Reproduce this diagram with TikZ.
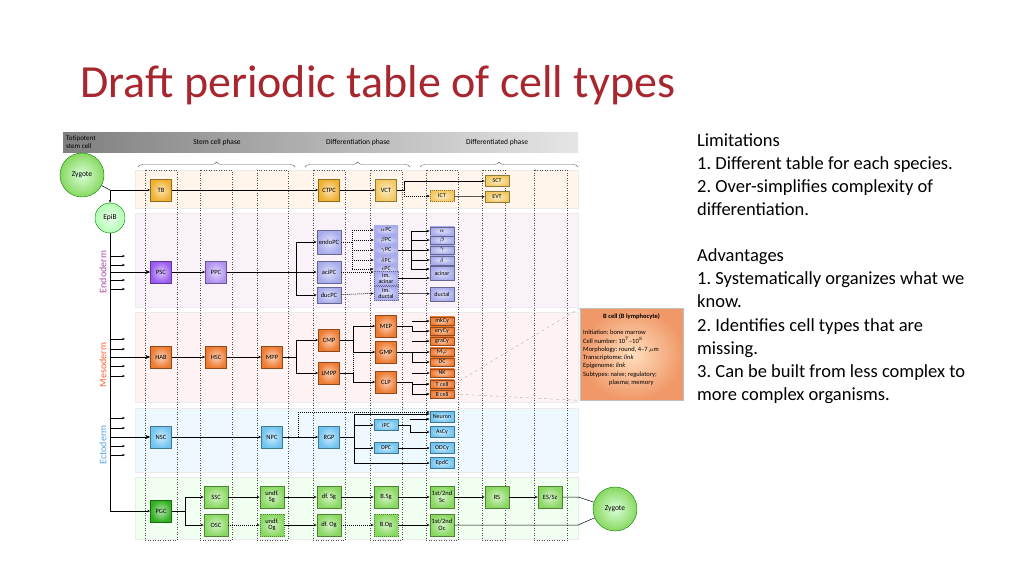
\documentclass[tikz,border=0pt]{standalone}
\usepackage{fontspec}
\setmainfont{Carlito}
\frenchspacing
\usetikzlibrary{arrows.meta,decorations.pathreplacing}
\definecolor{titlered}{HTML}{A8272F}
\definecolor{cTB}{HTML}{F0B030}
\definecolor{cVCT}{HTML}{F2C860}
\definecolor{cPSC}{HTML}{9A5AF0}
\definecolor{cPPC}{HTML}{B090F0}
\definecolor{cEndo}{HTML}{A8ACEC}
\definecolor{cMeso}{HTML}{EE7A30}
\definecolor{cEcto}{HTML}{70C4F0}
\definecolor{cPGC}{HTML}{30B020}
\definecolor{cGerm}{HTML}{88D860}
\definecolor{cBox}{HTML}{F09868}
\tikzset{
 cell/.style={draw=#1!60!black, line width=0.5pt, inner sep=0pt, align=center, minimum width=21pt, minimum height=22pt, font=\fontsize{6.5}{6.5}\selectfont, shading=radial, inner color=#1!35, outer color=#1},
 sm/.style={cell=#1, minimum width=24pt, minimum height=8.5pt, font=\fontsize{6}{6}\selectfont},
 dsh/.style={dash pattern=on 1.2pt off 0.8pt},
 ar/.style={-{Stealth[length=3pt,width=2.4pt]}, line width=0.5pt},
 ln/.style={line width=0.5pt},
 colframe/.style={draw=black!70, dotted, line width=0.5pt},
 band/.style={draw=black!8, line width=0.3pt},
 bodytext/.style={font=\fontsize{18.5}{23}\selectfont, anchor=north west, align=left, inner sep=0pt}
}
\begin{document}
\begin{tikzpicture}[x=1pt,y=-1pt]
\useasboundingbox (0,0) rectangle (1024,576);
\node[anchor=west, text=titlered, font=\fontsize{46}{52}\selectfont, inner sep=0pt] (title) at (80,85) {Draft periodic table of cell types};
% header
\shade[left color=black!50, right color=black!10] (63,132) rectangle (578,152);
\node[font=\fontsize{7}{7.5}\selectfont, align=left, anchor=west, inner sep=0pt] (toti) at (66,142) {Totipotent\\stem cell};
\node[font=\fontsize{7.5}{7.5}\selectfont] (h1) at (217,142) {Stem cell phase};
\node[font=\fontsize{7.5}{7.5}\selectfont] (h2) at (358,142) {Differentiation phase};
\node[font=\fontsize{7.5}{7.5}\selectfont] (h3) at (497,142) {Differentiated phase};
\draw[decorate, decoration={brace, amplitude=5pt}, black!60, line width=0.4pt] (138,167) -- (295,167);
\draw[decorate, decoration={brace, amplitude=5pt}, black!60, line width=0.4pt] (305,167) -- (410,167);
\draw[decorate, decoration={brace, amplitude=5pt}, black!60, line width=0.4pt] (420,167) -- (578,167);
% bands
\fill[band, fill=orange!8] (135,170) rectangle (578,208);
\fill[band, fill=violet!5] (135,213) rectangle (578,307);
\fill[band, fill=red!5] (135,312) rectangle (578,402);
\fill[band, fill=cyan!7] (135,408) rectangle (578,472);
\fill[band, fill=green!6] (135,477) rectangle (578,539);
% column frames
\foreach \a/\b in {145/177,200/232,257/288,313/345,370/402,426/458,482/505,534/567}
  \draw[colframe] (\a,170) rectangle (\b,540);
% zygote etc
\node[circle, draw=green!50!black, line width=0.4pt, shading=radial, inner color=green!15, outer color=cGerm, minimum size=44pt, inner sep=0pt, font=\fontsize{7.5}{7.5}\selectfont] (zyg) at (82,175) {Zygote};
\node[circle, draw=green!50!black, line width=0.4pt, shading=radial, inner color=green!8, outer color=green!30, minimum size=30pt, inner sep=0pt, font=\fontsize{7.5}{7.5}\selectfont] (epib) at (110,218) {EpiB};
\node[circle, draw=green!50!black, line width=0.4pt, shading=radial, inner color=green!15, outer color=cGerm, minimum size=44pt, inner sep=0pt, font=\fontsize{7.5}{7.5}\selectfont] (zyg2) at (615,509) {Zygote};
% trophoblast
\node[cell=cTB] (TB) at (161,190) {TB};
\node[cell=cTB] (CTPC) at (329,190) {CTPC};
\node[cell=cVCT] (VCT) at (386,190) {VCT};
\node[sm=cVCT, dsh, minimum height=11pt] (ICT) at (442,196) {ICT};
\node[sm=cVCT, minimum height=11pt] (SCT) at (497,181) {SCT};
\node[sm=cVCT, minimum height=11pt] (EVT) at (497,197) {EVT};
\coordinate (zc) at (110,190);
\draw[ln] (zyg) -- (zc);
\draw[ar] (zc) -- (epib);
\draw[ar] (zc) -- (TB);
\draw[ar] (TB) -- (CTPC);
\draw[ar] (CTPC) -- (VCT);
\draw[ar] (VCT.east) -- ++(7,0) |- (SCT.west);
\draw[ar, dsh] (VCT.east) ++(7,0) |- (ICT.west);
\draw[ar] (ICT) -- (EVT);
% endoderm
\node[cell=cPSC] (PSC) at (161,272) {PSC};
\node[cell=cPPC] (PPC) at (216,272) {PPC};
\node[cell=cEndo, minimum height=24pt, minimum width=24pt] (endoPC) at (329,242) {endoPC};
\node[cell=cEndo, minimum width=24pt] (aciPC) at (329,272) {aciPC};
\node[cell=cEndo, minimum height=16pt, minimum width=24pt] (ducPC) at (329,295) {ducPC};
\foreach \n/\t/\y in {aPC/$\alpha$PC/230,bPC/$\beta$PC/240,gPC/$\gamma$PC/250,dPC/$\delta$PC/260,ePC/$\epsilon$PC/269}
  \node[sm=cEndo, draw=none] (\n) at (386,\y) {\t};
\node[sm=cEndo, dsh, minimum height=14pt] (imac) at (386,278) {im.\\acinar};
\node[sm=cEndo, dsh, minimum height=14pt] (imdu) at (386,293) {im.\\ductal};
\foreach \n/\t/\y in {a/$\alpha$/231,b/$\beta$/240,g/$\gamma$/250,d/$\delta$/260,e/$\epsilon$/269}
  \node[sm=cEndo] (\n) at (442,\y) {\t};
\node[sm=cEndo, minimum height=14pt] (acinar) at (442,273) {acinar};
\node[sm=cEndo, minimum height=14pt] (ductal) at (442,294) {ductal};
\draw[ar] (PSC) -- (PPC);
\draw[ln] (PPC) -- (296,272);
\draw[ar] (296,272) -- (aciPC);
\draw[ar] (296,242) |- (ducPC);
\draw[ar] (296,242) -- (endoPC);
\draw[ln, dsh] (352,230) -- (352,269);
\foreach \n in {aPC,bPC,gPC,dPC,ePC} \draw[ar, dsh] (352,0 |- \n) -- (\n);
\draw[ln, dsh] (endoPC) -- (352,242);
\draw[ar, dsh] (aciPC) -- (imac.west |- aciPC);
\draw[ar, dsh] (ducPC) -- (imdu);
\draw[ln] (gPC) -- (411,250);
\draw[ln] (411,231) -- (411,269);
\foreach \n in {a,b,g,d,e} \draw[ar] (411,0 |- \n) -- (\n);
\draw[ar] (imac) -- (acinar.west |- imac);
\draw[ar] (imdu) -- (ductal);
% mesoderm
\foreach \n/\x/\y in {HAB/161/357,HSC/216/357,MPP/272/357,CMP/329/340,LMPP/329/373,MEP/386/326,GMP/386/352,CLP/386/382}
  \node[cell=cMeso] (\n) at (\x,\y) {\n};
\foreach \n/\t/\y in {mk/mkCy/321,ery/eryCy/331,gra/graCy/341,mph/M$\varphi$/352,DC/DC/362,NK/NK/373,T/T cell/384,B/B cell/394}
  \node[sm=cMeso] (\n) at (442,\y) {\t};
\draw[ar] (HAB) -- (HSC);
\draw[ar] (HSC) -- (MPP);
\draw[ln] (MPP) -- (296,357);
\draw[ar] (296,340) |- (CMP);
\draw[ar] (296,357) |- (LMPP);
\draw[ln] (296,340) -- (296,357);
\draw[ln] (CMP) -- (353,340);
\draw[ar] (353,326) |- (MEP.west);
\draw[ar] (353,340) |- (GMP.west);
\draw[ln] (353,326) -- (353,340);
\draw[ln] (LMPP) -- (353,373);
\draw[ar] (353,373) |- (CLP);
\draw[ln, dsh] (353,373) -- (353,352);
\draw[ln] (MEP) -- (412,326);
\draw[ar] (412,321) |- (mk); \draw[ar] (412,326) |- (ery);
\draw[ln] (GMP) -- (412,352);
\draw[ar] (412,341) |- (gra); \draw[ar] (412,352) -- (mph); \draw[ar] (412,352) |- (DC);
\draw[ln] (CLP) -- (412,382);
\draw[ar] (412,373) |- (NK); \draw[ar] (412,384) -- (T); \draw[ar] (412,382) |- (B);
% B cell detail
\node[draw=black!25, line width=0.4pt, shading=radial, inner color=orange!25, outer color=cBox, minimum width=103pt, minimum height=92pt, anchor=north west, inner sep=0pt] (bbox) at (580,308) {};
\node[anchor=north, font=\fontsize{6.5}{7}\selectfont\bfseries, inner sep=0pt] (btitle) at (631.5,313) {B cell (B lymphocyte)};
\node[anchor=north west, font=\fontsize{6.5}{8.3}\selectfont, align=left, inner sep=0pt] (btext) at (583,330) {Initiation: bone marrow\\Cell number: 10$^7$--10$^8$\\Morphology: round, 4--7 $\mu$m\\Transcriptome: \textit{link}\\Epigenome: \textit{link}\\Subtypes: naive; regulatory;\\\hspace{26pt}plasma; memory};
\draw[black!30, dashed, line width=0.4pt] (T.east) -- (bbox.north west);
\draw[black!30, dashed, line width=0.4pt] (B.east) -- (bbox.south west);
% ectoderm
\foreach \n/\x/\y in {NSC/161/437,NPC/272/437,RGP/329/437}
  \node[cell=cEcto] (\n) at (\x,\y) {\n};
\node[sm=cEcto, minimum height=11pt] (iPC) at (386,425) {iPC};
\node[sm=cEcto, minimum height=11pt] (OPC) at (386,448) {OPC};
\foreach \n/\y in {Neuron/417,AsCy/432,ODCy/448,EpdC/463}
  \node[sm=cEcto, minimum height=11pt] (\n) at (442,\y) {\n};
\draw[ar] (NSC) -- (NPC);
\draw[ar] (NPC) -- (RGP);
\draw[ln, dsh] (298,437) -- (298,412);
\draw[ar, dsh] (298,412) -- (Neuron.west |- 0,412);
\draw[ln] (RGP) -- (354,437);
\draw[ln] (354,414) -- (354,463);
\draw[ar] (354,414) -- (Neuron.west |- 0,414);
\draw[ar] (354,425) -- (iPC);
\draw[ar] (354,448) -- (OPC);
\draw[ar] (354,463) -- (EpdC);
\draw[ln] (iPC) -- (410,425);
\draw[ar] (410,419) |- (Neuron.west |- 0,419);
\draw[ar] (410,425) |- (AsCy);
\draw[ar] (OPC) -- (ODCy);
% germ
\node[cell=cPGC] (PGC) at (161,511) {PGC};
\foreach \n/\t/\x/\y in {SSC/SSC/216/497,OSC/OSC/216/525,uSg/{undf.\\Sg}/272/497,dSg/df. Sg/329/497,BSg/B.Sg/386/497,Sc/{1st/2nd\\Sc}/442/497,RS/RS/497/497,ES/{ES/Sz}/550/497,dOg/df. Og/329/525,Oc/{1st/2nd\\Oc}/442/525}
  \node[cell=cGerm, minimum width=24pt] (\n) at (\x,\y) {\t};
\node[cell=cGerm, minimum width=24pt, dsh] (uOg) at (272,525) {undf.\\Og};
\node[cell=cGerm, minimum width=24pt, dsh] (BOg) at (386,525) {B.Og};
\draw[ln] (PGC) -- (185,511);
\draw[ar] (185,497) |- (SSC);
\draw[ar] (185,511) |- (OSC);
\draw[ln] (185,497) -- (185,511);
\draw[ar] (SSC) -- (uSg); \draw[ar] (uSg) -- (dSg); \draw[ar] (dSg) -- (BSg); \draw[ar] (BSg) -- (Sc); \draw[ar] (Sc) -- (RS); \draw[ar] (RS) -- (ES);
\draw[ar, dsh] (OSC) -- (uOg); \draw[ar] (uOg) -- (dOg); \draw[ar, dsh] (dOg) -- (BOg); \draw[ar] (BOg) -- (Oc);
\draw[ln] (ES) -- (578,497) -- (zyg2);
\draw[ln] (Oc) -- (578,525) -- (zyg2);
% left trunk
\draw[ln] (epib) -- (110,511);
\draw[ar] (110,511) -- (PGC);
\draw[-{Stealth[length=5pt,width=4pt]}, line width=0.6pt] (110,272) -- (PSC);
\draw[-{Stealth[length=5pt,width=4pt]}, line width=0.6pt] (110,357) -- (HAB);
\draw[-{Stealth[length=5pt,width=4pt]}, line width=0.6pt] (110,437) -- (NSC);
\foreach \y in {256,265,280,289,339,349,366,376,418,428,446,455}
  \draw[ar] (110,\y) -- (125,\y);
\node[rotate=90, text=violet!70, font=\fontsize{10}{10}\selectfont] (endo) at (103,272) {Endoderm};
\node[rotate=90, text=red!55!orange!80, font=\fontsize{10}{10}\selectfont] (meso) at (103,365) {Mesoderm};
\node[rotate=90, text=cyan!70!blue!70, font=\fontsize{10}{10}\selectfont] (ecto) at (103,445) {Ectoderm};
% right text
\node[bodytext] (lim) at (697,134) {Limitations\\1. Different table for each species.\\2. Over-simplifies complexity of\\differentiation.\\[23pt]Advantages\\1. Systematically organizes what we\\know.\\2. Identifies cell types that are\\missing.\\3. Can be built from less complex to\\more complex organisms.};
\end{tikzpicture}
\end{document}
